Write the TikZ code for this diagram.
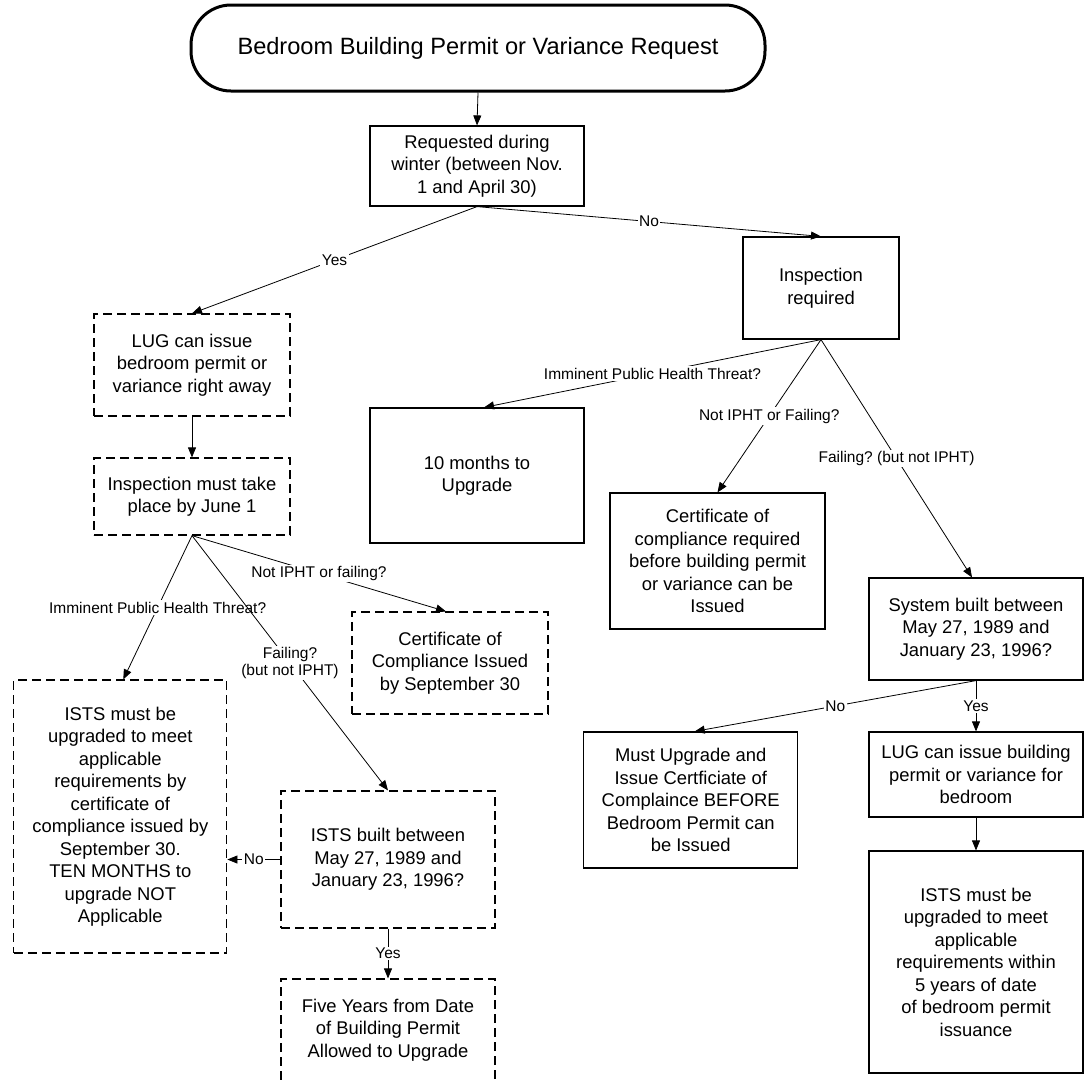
\documentclass[tikz,border=0pt]{standalone}
\usepackage{fontspec}
\setmainfont{Liberation Sans}
\usetikzlibrary{arrows.meta}
\frenchspacing
\begin{document}
\begin{tikzpicture}[x=1pt,y=-1pt,
  sbox/.style={draw=black, line width=1.2pt, align=center, inner sep=0pt,
               font=\fontsize{18.4}{22.5}\selectfont},
  dbox/.style={sbox, dash pattern=on 9pt off 5pt},
  btext/.style={align=center, inner sep=0pt, font=\fontsize{18.4}{22.5}\selectfont},
  term/.style={draw=black, line width=3pt, rounded corners=40pt, align=center,
               font=\fontsize{23.6}{28}\selectfont},
  conn/.style={draw=black, line width=0.8pt, -{Triangle[length=10pt,width=8pt]}},
  lbl/.style={fill=white, inner sep=1.5pt, align=center,
              font=\fontsize{15.5}{17.5}\selectfont}]
\useasboundingbox (0,0) rectangle (1092,1080);
\fill[white] (0,0) rectangle (1092,1080);
\clip (0,0) rectangle (1092,1080);

% nodes
\node[term, minimum width=574, minimum height=86] (start) at (478,48)
  {Bedroom Building Permit or Variance Request};
\node[sbox, minimum width=214, minimum height=80] (winter) at (477,166)
  {Requested during\\winter (between Nov.\\1 and April 30)};
\node[sbox, minimum width=156, minimum height=102] (insp) at (821,288)
  {Inspection\\required};
\node[dbox, minimum width=196, minimum height=102] (lug) at (192,365)
  {LUG can issue\\bedroom permit or\\variance right away};
\node[dbox, minimum width=196, minimum height=77] (mustinsp) at (192,496.5)
  {Inspection must take\\place by June 1};
\node[sbox, minimum width=214, minimum height=135] (ten) at (477,475.5)
  {10 months to\\Upgrade};
\node[sbox, minimum width=215, minimum height=136] (certreq) at (717.5,561)
  {Certificate of\\compliance required\\before building permit\\or variance can be\\Issued};
\node[dbox, minimum width=196, minimum height=102] (certiss) at (450,663)
  {Certificate of\\Compliance Issued\\by September 30};
\node[dbox, minimum width=213, minimum height=273] (istsL) at (120.3,816.5)
  {ISTS must be\\upgraded to meet\\applicable\\requirements by\\certificate of\\compliance issued by\\September 30.\\TEN MONTHS to\\upgrade NOT\\Applicable};
\node[dbox, minimum width=214, minimum height=137] (istsB) at (388,859.5)
  {ISTS built between\\May 27, 1989 and\\January 23, 1996?};
\node[dbox, minimum width=214, minimum height=110] (five) at (388,1034) {};
\node[btext] (fivetext) at (388,1030)
  {Five Years from Date\\of Building Permit\\Allowed to Upgrade};
\node[sbox, minimum width=214, minimum height=102] (sys) at (976,629)
  {System built between\\May 27, 1989 and\\January 23, 1996?};
\node[sbox, minimum width=214, minimum height=136] (mustup) at (690.7,800)
  {Must Upgrade and\\Issue Certficiate of\\Complaince BEFORE\\Bedroom Permit can\\be Issued};
\node[sbox, minimum width=214, minimum height=85] (lugb) at (976,774.5)
  {LUG can issue building\\permit or variance for\\bedroom};
\node[sbox, minimum width=214, minimum height=222] (istsR) at (976,962)
  {ISTS must be\\upgraded to meet\\applicable\\requirements within\\5 years of date\\of bedroom permit\\issuance};

% connectors
\draw[conn] (start.south) -- (winter.north);
\draw[conn] (winter.south) -- node[lbl]{Yes} (lug.north);
\draw[conn] (winter.south) -- node[lbl]{No} (insp.north);
\draw[conn] (lug.south) -- (mustinsp.north);
\draw[conn] (insp.south) -- node[lbl]{Imminent Public Health Threat?} ([xshift=7pt]ten.north);
\draw[conn] (insp.south) -- node[lbl]{Not IPHT or Failing?} (certreq.north);
\draw[conn] (insp.south) -- node[lbl]{Failing? (but not IPHT)} ([xshift=-4pt]sys.north);
\draw[conn] (sys.south) -- node[lbl]{No} ([xshift=4pt]mustup.north);
\draw[conn] (sys.south) -- node[lbl]{Yes} (lugb.north);
\draw[conn] (lugb.south) -- (istsR.north);
\draw[conn] (mustinsp.south) -- node[lbl]{Imminent Public Health Threat?} ([xshift=3pt]istsL.north);
\draw[conn] (mustinsp.south) -- node[lbl]{Not IPHT or failing?} ([xshift=-4pt]certiss.north);
\draw[conn] (mustinsp.south) -- node[lbl]{Failing?\\(but not IPHT)} (istsB.north);
\draw[conn] (istsB.west) -- node[lbl]{No} (istsB.west -| istsL.east);
\draw[conn] (istsB.south) -- node[lbl]{Yes} (five.north);
\end{tikzpicture}
\end{document}
